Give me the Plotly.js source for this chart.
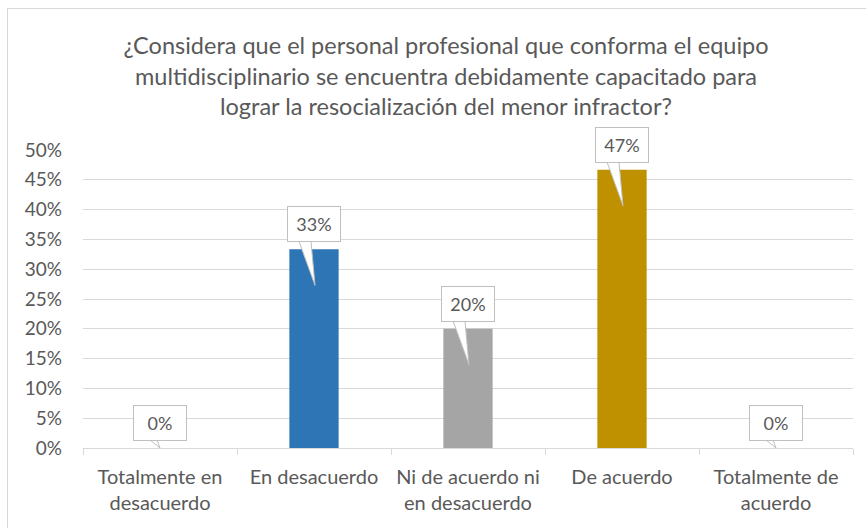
<!DOCTYPE html>
<html>
<head>
<meta charset="utf-8">
<script src="https://cdn.plot.ly/plotly-3.0.1.min.js"></script>
<style>
  html, body { margin: 0; padding: 0; background: #ffffff; }
  #wrap { position: relative; width: 866px; height: 528px; overflow: hidden; }
  #chart { position: absolute; left: 0; top: 0; width: 866px; height: 528px; }
  #frame { position: absolute; left: 7px; top: 8px; width: 900px; height: 600px;
           border-left: 1px solid #D9D9D9; border-top: 1px solid #D9D9D9; pointer-events: none; }
</style>
</head>
<body>
<div id="wrap">
  <div id="chart"></div>
  <div id="frame"></div>
</div>
<script>
const titleLines = [
  "¿Considera que el personal profesional que conforma el equipo",
  "multidisciplinario se encuentra debidamente capacitado para",
  "lograr la resocialización del menor infractor?"
];
const categories = [
  "Totalmente en<br>desacuerdo",
  "En desacuerdo",
  "Ni de acuerdo ni<br>en desacuerdo",
  "De acuerdo",
  "Totalmente de<br>acuerdo"
];
const values = [0, 0.3333, 0.2, 0.4667, 0];
const labels = ["0%", "33%", "20%", "47%", "0%"];
const colors = ["#2E75B6", "#2E75B6", "#A5A5A5", "#BF9000", "#FFC000"];
const yTicks = [0, 0.05, 0.10, 0.15, 0.20, 0.25, 0.30, 0.35, 0.40, 0.45, 0.50];

const FONT = "Lato, 'Open Sans', sans-serif";
const TXT = "#595959";

const trace = {
  type: "bar",
  x: categories,
  y: values,
  marker: { color: colors },
  width: 0.32,
  hoverinfo: "skip"
};

const annotations = [];
const shapes = [];
categories.forEach((c, i) => {
  const tipY = values[i] > 0 ? -36 : 0;
  const tipX = values[i] > 0 ? 1 : 0;
  const leftX = values[i] > 0 ? -15 : -10;
  const rightX = -3;
  shapes.push({
    type: "path", layer: "above",
    xref: "x", yref: "y",
    xsizemode: "pixel", ysizemode: "pixel",
    xanchor: c, yanchor: values[i],
    path: `M ${leftX} 8 L ${rightX} 8 L ${tipX} ${tipY} Z`,
    fillcolor: "#ffffff",
    line: { color: "#BFBFBF", width: 1 }
  });
  annotations.push({
    x: c, y: values[i], xref: "x", yref: "y",
    text: labels[i], showarrow: false,
    yanchor: "bottom", yshift: 7,
    width: 44, height: 26, borderpad: 4,
    bgcolor: "#ffffff", bordercolor: "#BFBFBF", borderwidth: 1,
    font: { family: FONT, size: 18, color: TXT }
  });
});

const layout = {
  width: 866, height: 528,
  margin: { l: 83, r: 13, t: 150, b: 80 },
  paper_bgcolor: "rgba(0,0,0,0)",
  plot_bgcolor: "rgba(0,0,0,0)",
  showlegend: false,
  title: {
    text: titleLines.join("<br>"),
    font: { family: FONT, size: 23.5, color: TXT },
    xref: "container", x: 446 / 866, xanchor: "center",
    yref: "container", y: 1 - 54 / 528, yanchor: "top"
  },
  xaxis: {
    type: "category",
    showline: true, linecolor: "#D9D9D9", linewidth: 1,
    ticks: "outside", tickson: "boundaries", ticklen: 6, tickcolor: "#D9D9D9",
    showgrid: false,
    tickangle: 0,
    ticklabelstandoff: 11,
    tickfont: { family: FONT, size: 20, color: TXT },
    fixedrange: true
  },
  yaxis: {
    range: [0, 0.5],
    tickvals: yTicks,
    tickformat: ".0%",
    showgrid: true, gridcolor: "#D9D9D9", gridwidth: 1,
    zeroline: false, showline: false,
    ticks: "", ticklabelstandoff: 20,
    tickfont: { family: FONT, size: 19, color: TXT },
    fixedrange: true
  },
  bargap: 0.68,
  shapes: shapes,
  annotations: annotations
};

Plotly.newPlot("chart", [trace], layout, { displayModeBar: false, staticPlot: true });
</script>
</body>
</html>
